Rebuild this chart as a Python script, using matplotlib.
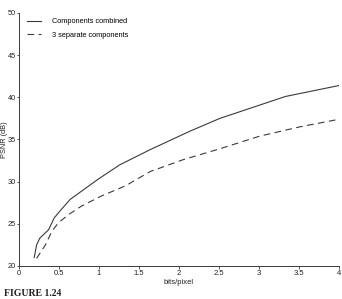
import matplotlib
matplotlib.use("Agg")
import matplotlib.pyplot as plt
from matplotlib.lines import Line2D

combined_x = [0.19, 0.22, 0.26, 0.37, 0.44, 0.51, 0.64, 0.99, 1.26, 1.64, 2.14, 2.51, 2.92, 3.33, 4.0]
combined_y = [21.0, 22.5, 23.3, 24.3, 25.7, 26.5, 27.9, 30.3, 32.0, 33.8, 36.0, 37.5, 38.8, 40.1, 41.4]

separate_x = [0.22, 0.33, 0.41, 0.49, 0.62, 0.78, 1.03, 1.33, 1.64, 2.05, 2.51, 3.01, 3.51, 4.0]
separate_y = [20.9, 22.5, 24.1, 25.1, 26.1, 27.1, 28.3, 29.5, 31.2, 32.6, 33.9, 35.4, 36.5, 37.4]

labels = ["Components combined", "3 separate components"]
x_ticks = [0, 0.5, 1, 1.5, 2, 2.5, 3, 3.5, 4]
x_tick_labels = ["0", "0.5", "1", "1.5", "2", "2.5", "3", "3.5", "4"]
y_ticks = [20, 25, 30, 35, 40, 45, 50]

plt.rcParams['font.family'] = ['Liberation Sans', 'DejaVu Sans']
col = "#3a3a3a"

fig = plt.figure(figsize=(3.42, 2.99), dpi=100)
ax = fig.add_axes([19/342, 1 - 266/299, 320/342, 253/299])

ax.plot(combined_x, combined_y, color=col, lw=0.8, ls='-')
ax.plot(separate_x, separate_y, color=col, lw=0.8, ls=(0, (6, 4)))

ax.set_xlim(0, 4)
ax.set_ylim(20, 50)
ax.set_xticks(x_ticks)
ax.set_xticklabels(x_tick_labels)
ax.set_yticks(y_ticks)
for s in ['top', 'right']:
    ax.spines[s].set_visible(False)
for s in ['left', 'bottom']:
    ax.spines[s].set_color(col)
    ax.spines[s].set_linewidth(0.7)
ax.tick_params(axis='y', labelsize=5.3, length=1.6, width=0.6, color=col, pad=0.6, labelcolor="#222222")
ax.tick_params(axis='x', labelsize=5.5, length=2.0, width=0.6, color=col, pad=1.2, labelcolor="#222222")
ax.set_xlabel("bits/pixel", fontsize=5.5, labelpad=1, color="#222222")
ax.set_ylabel("PSNR (dB)", fontsize=5.3, color="#222222")
ax.yaxis.set_label_coords(-0.035, 0.5)

handles = [Line2D([], [], color=col, lw=0.8, ls='-'),
           Line2D([], [], color=col, lw=0.8, ls=(0, (6, 4)))]
ax.legend(handles, labels, loc='upper left', bbox_to_anchor=(0.01, 1.0), frameon=False,
          fontsize=5.3, handlelength=1.8, handletextpad=1.5, labelspacing=0.85, borderaxespad=0.3)

fig.text(4/342, 1 - 289/299, "FIGURE 1.24", family=['Liberation Serif'], fontweight='bold',
         fontsize=7, va='top', ha='left', color="#222222")

fig.savefig("out.png", dpi=100)
